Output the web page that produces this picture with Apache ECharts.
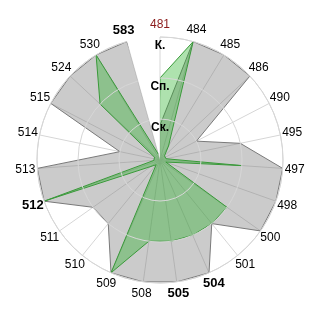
<!DOCTYPE html>
<html><head><meta charset="utf-8">
<script src="https://cdn.jsdelivr.net/npm/echarts@6/dist/echarts.min.js"></script>
<style>html,body{margin:0;padding:0;background:#fff}#c{width:320px;height:320px}</style>
</head><body><div id="c"></div>
<script>
const categories = ['481','484','485','486','490','495','497','498','500','501','504','505','508','509','510','511','512','513','514','515','524','530','583'];
const grayValues = [0.85,3,3,3,1,2,3,3,3,2,3,3,3,3,2,2,3,3,1,3,3,3,3];
const greenValues = [2,3,0.4,0.15,0.15,0.15,2,0.15,2,2,2,2,2,3,0.15,0.15,3,0.15,0.15,0.15,2,3,0.15];
const levelLabels = ['', 'Ск.', 'Сп.', 'К.'];
const boldCats = ['583','512','505','504'];
const redCats = ['481'];
const radiusMax = 3;

function closed(vals){
  const d = categories.map((c,i)=>[c, vals[i]]);
  d.push([categories[0], vals[0]]);
  return d;
}
const FONT = 'Liberation Sans, Arial, sans-serif';
const chart = echarts.init(document.getElementById('c'), null, {renderer:'canvas'});
chart.setOption({
  animation:false,
  polar:{center:[160,160], radius:123},
  angleAxis:{
    type:'category', data:categories, startAngle:90, clockwise:true, boundaryGap:false,
    axisLine:{show:true, lineStyle:{color:'#d6d6d6', width:1}},
    axisTick:{show:false},
    splitLine:{show:true, lineStyle:{color:'#d6d6d6', width:1}},
    axisLabel:{show:false}
  },
  radiusAxis:{
    type:'value', min:0, max:radiusMax, interval:1,
    axisLine:{show:false}, axisTick:{show:false},
    splitLine:{show:true, lineStyle:{color:'#d6d6d6', width:1}},
    axisLabel:{show:true, margin:0, align:'center', verticalAlign:'top', padding:[3,0,0,0], color:'#000', fontSize:12, fontWeight:'bold', fontFamily:FONT,
      formatter:function(v){ return levelLabels[Math.round(v)] || ''; }},
    z:10
  },
  series:[
    {type:'line', coordinateSystem:'polar', data:closed(grayValues), encode:{angle:0, radius:1},
     symbol:'none', smooth:false, clip:false,
     lineStyle:{color:'#7a7a7a', width:1},
     areaStyle:{color:'rgba(128,128,128,0.58)', origin:'start'}, z:2},
    {type:'line', coordinateSystem:'polar', data:closed(greenValues), encode:{angle:0, radius:1},
     symbol:'none', smooth:false, clip:false,
     lineStyle:{color:'#3a9a3a', width:1},
     areaStyle:{color:'rgba(34,176,34,0.52)', origin:'start'}, z:3}
  ]
});

// Category labels centred just outside the outer ring, positioned through the polar scale.
const labelGap = 12;
const c0 = chart.convertToPixel({seriesIndex:0}, [0, 0]);
const labelEls = categories.map(function(c, i){
  const p = chart.convertToPixel({seriesIndex:0}, [radiusMax, i]);
  const dx = p[0]-c0[0], dy = p[1]-c0[1];
  const len = Math.sqrt(dx*dx+dy*dy);
  const k = (len + labelGap) / len;
  const isBold = boldCats.indexOf(c) >= 0;
  const isRed = redCats.indexOf(c) >= 0;
  return {
    type:'text', x: c0[0] + dx*k, y: c0[1] + dy*k, z: 20,
    style:{
      text:c, align:'center', verticalAlign:'middle',
      fill: isRed ? '#8b1a1a' : '#000',
      font: (isBold ? 'bold 13px ' : '12px ') + FONT
    }
  };
});
chart.setOption({graphic: labelEls});
</script></body></html>
